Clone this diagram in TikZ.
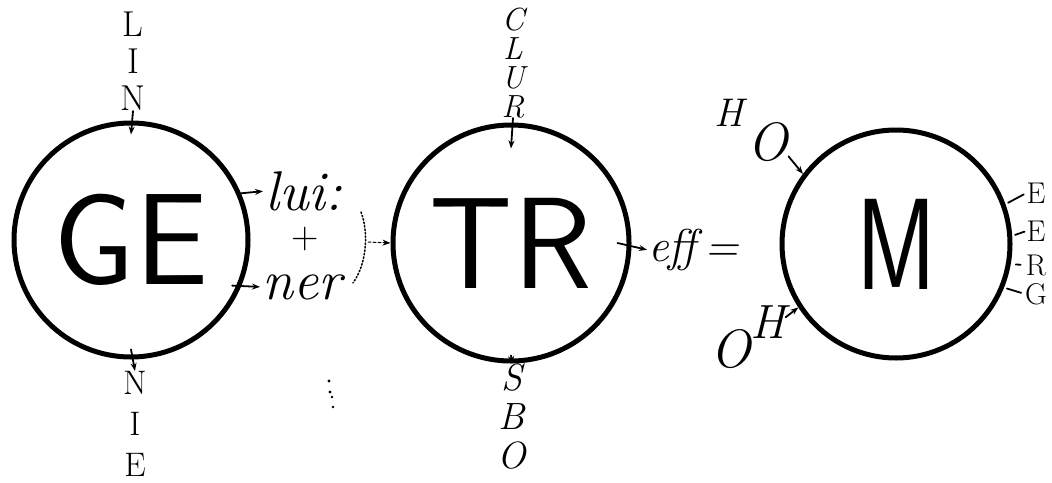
\documentclass[tikz,border=0pt]{standalone}
\usepackage{tikz}
\usetikzlibrary{arrows.meta,positioning,calc}

\begin{document}
\begin{tikzpicture}[x=1pt, y=-1pt, line cap=round, ring/.style={circle, draw=black, line width=5pt, inner sep=0pt, font=\sffamily\fontsize{130}{130}\selectfont}, stack/.style={align=center, inner sep=0pt}, word/.style={font=\itshape\fontsize{56}{56}\selectfont, inner sep=0pt}, letter/.style={inner sep=0pt, font=\fontsize{30}{30}\selectfont}, arrow/.style={-{Stealth[length=8pt, width=6pt]}, line width=1.8pt}, tick/.style={line width=1.8pt}]
\useasboundingbox (0,0) rectangle (1052,482);
% the three circles
\node[ring, minimum size=234pt] (ge) at (131,240) {GE};
\node[ring, minimum size=236pt] (tr) at (511,243) {TR};
\node[ring, minimum size=228pt] (m) at (896,244) {\scalebox{0.75}[1]{M}};
% GE
\node[stack, font=\fontsize{36}{37}\selectfont, anchor=south] (lin) at (133,111) {L\\I\\N};
\node[stack, font=\fontsize{34}{41}\selectfont, anchor=north] (nie) at (135,371) {N\\I\\E};
\node[word, anchor=west] (lui) at (265,191) {lui:};
\node[word, anchor=west] (ner) at (262,287) {ner};
\node[font=\fontsize{38}{38}\selectfont, inner sep=0pt] (plus) at (305,239) {+};
\draw[arrow] (lin.south) -- ([yshift=-14pt]ge.north);
\draw[arrow] ([yshift=10pt]ge.south) -- (nie.north);
\draw[arrow, shorten >=2pt] (ge.23) -- (lui.west);
\draw[arrow, shorten >=2pt] ([shift={(-8pt,3pt)}]ge.-24) -- (ner.west);
\draw[dotted, line width=1.5pt] (361,212) .. controls (368,230) and (368,262) .. (353,283);
\coordinate (brk) at (368,242);
\draw[arrow, densely dashed, line width=1pt] (brk) -- (tr.west);
% TR
\node[stack, font=\itshape\fontsize{32}{29}\selectfont, anchor=south] (clur) at (513,118) {C\\L\\U\\R};
\node[stack, font=\itshape\fontsize{38}{39}\selectfont, anchor=north] (sbo) at (512,364) {S\\B\\O};
\node[font=\itshape\fontsize{46}{46}\selectfont, inner sep=0pt, anchor=west] (eff) at (648,250) {eff\,=};
\draw[arrow] (clur.south) -- ([yshift=-26pt]tr.north);
\draw[arrow] ([yshift=8pt]tr.south) -- (sbo.north);
\draw[arrow, shorten >=1pt] ([xshift=-14pt]tr.east) -- (eff.west);
% M
\node[font=\itshape\fontsize{40}{40}\selectfont, inner sep=0pt] (h1) at (729,113) {H};
\node[font=\itshape\fontsize{54}{54}\selectfont, inner sep=0pt] (o1) at (768,142) {O};
\node[font=\itshape\fontsize{48}{48}\selectfont, inner sep=0pt] (h2) at (768,322) {H};
\node[font=\itshape\fontsize{54}{54}\selectfont, inner sep=0pt] (o2) at (731,349) {O};
\draw[arrow] (o1.-35) -- (m.143);
\draw[arrow] (h2.15) -- (m.213);
\node[letter] (e1) at (1036,193) {E};
\node[letter] (e2) at (1036,231) {E};
\node[letter] (r) at (1036,265) {R};
\node[letter] (g) at (1036,294) {G};
\draw[tick, shorten <=3pt, shorten >=3pt] (m.20) -- (e1.west);
\draw[tick, shorten <=3pt, shorten >=2pt] (m.4) -- (e2.west);
\draw[tick, shorten <=5pt, shorten >=5pt] (m.-10) -- (r.west);
\draw[tick, shorten <=3pt, shorten >=4pt] (m.-22) -- (g.west);
% stray marks
\fill (329,381) circle (1.6) (330,392) circle (1.6) (332,397) circle (1.4) (333,407) circle (1.4);
\end{tikzpicture}
\end{document}
